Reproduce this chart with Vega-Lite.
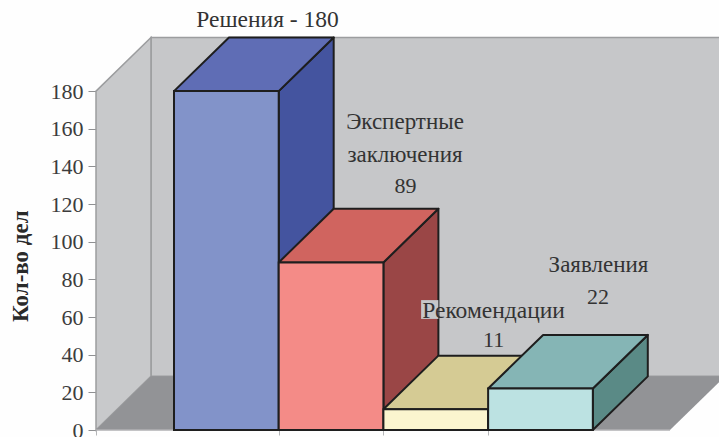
{
  "$schema": "https://vega.github.io/schema/vega-lite/v6.json",
  "width": 623,
  "height": 430,
  "autosize": "none",
  "padding": {"left": 96, "top": 0, "right": 0, "bottom": 7},
  "background": "#fefefe",
  "config": {"view": {"stroke": null}, "text": {"font": "Liberation Serif"}},
  "datasets": {
    "bars": [
      {"rank": 0, "name": "Решения", "value": 180},
      {"rank": 1, "name": "Экспертные заключения", "value": 89},
      {"rank": 2, "name": "Рекомендации", "value": 11},
      {"rank": 3, "name": "Заявления", "value": 22}
    ],
    "depth": [{"t": 0}, {"t": 1}],
    "single": [{"t": 0}]
  },
  "resolve": {"scale": {"color": "independent"}},
  "layer": [
    {
      "description": "Back wall of the box",
      "data": {"name": "single"},
      "mark": {"type": "rect", "fill": "#c6c7c9", "stroke": "#9c9d9f", "strokeWidth": 1.5, "clip": true},
      "encoding": {
        "x": {
          "datum": -0.22,
          "type": "quantitative",
          "title": null,
          "scale": {"domain": [-0.745, 5.205], "nice": false, "zero": false},
          "axis": {"values": [-0.745, 1, 2, 3], "labels": false, "domain": false, "grid": false, "tickSize": 5, "tickColor": "#b5b6b8", "title": null}
        },
        "x2": {"datum": 5.3},
        "y": {
          "datum": 28.5,
          "type": "quantitative",
          "title": null,
          "scale": {"domain": [0, 228.4], "nice": false, "zero": false},
          "axis": {
            "values": [0, 20, 40, 60, 80, 100, 120, 140, 160, 180],
            "domain": false,
            "grid": false,
            "tickSize": 8,
            "tickColor": "#8f9092",
            "labelFont": "Liberation Serif",
            "labelFontSize": 22,
            "labelColor": "#3c3c3c",
            "labelPadding": 5,
            "title": null
          }
        },
        "y2": {"datum": 208.5}
      }
    },
    {
      "description": "Left wall",
      "data": {"name": "depth"},
      "transform": [
        {"calculate": "-0.745 + 0.525 * datum.t", "as": "px"},
        {"calculate": "28.5 * datum.t", "as": "low"},
        {"calculate": "180 + 28.5 * datum.t", "as": "high"}
      ],
      "mark": {"type": "area", "fill": "#c8c9cb", "stroke": "#9c9d9f", "strokeWidth": 1.5},
      "encoding": {
        "x": {"field": "px", "type": "quantitative", "title": null},
        "y": {"field": "low", "type": "quantitative", "title": null},
        "y2": {"field": "high"}
      }
    },
    {
      "description": "Floor",
      "data": {"name": "depth"},
      "transform": [
        {"calculate": "-0.745 + 0.525 * datum.t", "as": "xa"},
        {"calculate": "4.737 + 0.525 * datum.t", "as": "xb"},
        {"calculate": "28.5 * datum.t", "as": "py"}
      ],
      "mark": {"type": "area", "orient": "horizontal", "fill": "#929396", "clip": true},
      "encoding": {
        "y": {"field": "py", "type": "quantitative", "title": null},
        "x": {"field": "xa", "type": "quantitative", "title": null},
        "x2": {"field": "xb"}
      }
    },
    {
      "description": "Front edge of the floor",
      "data": {"name": "single"},
      "mark": {"type": "rule", "stroke": "#b0b1b3", "strokeWidth": 1.5},
      "encoding": {
        "x": {"datum": -0.745, "type": "quantitative", "title": null},
        "x2": {"datum": 4.737},
        "y": {"datum": 0, "type": "quantitative", "title": null}
      }
    },
    {
      "description": "Right-hand faces of the bars",
      "data": {"name": "bars"},
      "transform": [
        {"calculate": "[0, 1]", "as": "t"},
        {"flatten": ["t"]},
        {"calculate": "datum.rank + 1 + 0.525 * datum.t", "as": "sx"},
        {"calculate": "datum.value + 28.5 * datum.t", "as": "sa"},
        {"calculate": "28.5 * datum.t", "as": "sb"}
      ],
      "mark": {"type": "area", "stroke": "#1e1e1e", "strokeWidth": 2, "strokeJoin": "round"},
      "encoding": {
        "x": {"field": "sx", "type": "quantitative", "title": null},
        "y": {"field": "sa", "type": "quantitative", "title": null},
        "y2": {"field": "sb"},
        "color": {
          "field": "name",
          "type": "nominal",
          "legend": null,
          "scale": {
            "domain": ["Решения", "Экспертные заключения", "Рекомендации", "Заявления"],
            "range": ["#44549f", "#9a4646", "#a09a70", "#5a8a86"]
          }
        }
      }
    },
    {
      "description": "Top faces of the bars",
      "data": {"name": "bars"},
      "transform": [
        {"calculate": "[0, 1]", "as": "t"},
        {"flatten": ["t"]},
        {"calculate": "datum.rank + 0.525 * datum.t", "as": "xa"},
        {"calculate": "datum.rank + 1 + 0.525 * datum.t", "as": "xb"},
        {"calculate": "datum.value + 28.5 * datum.t", "as": "ty"}
      ],
      "mark": {"type": "area", "orient": "horizontal", "stroke": "#1e1e1e", "strokeWidth": 2, "strokeJoin": "round"},
      "encoding": {
        "y": {"field": "ty", "type": "quantitative", "title": null},
        "x": {"field": "xa", "type": "quantitative", "title": null},
        "x2": {"field": "xb"},
        "color": {
          "field": "name",
          "type": "nominal",
          "legend": null,
          "scale": {
            "domain": ["Решения", "Экспертные заключения", "Рекомендации", "Заявления"],
            "range": ["#5f6db5", "#d0645f", "#d5cb94", "#85b5b5"]
          }
        }
      }
    },
    {
      "description": "Front faces of the bars",
      "data": {"name": "bars"},
      "transform": [{"calculate": "datum.rank + 1", "as": "rankEnd"}],
      "mark": {"type": "rect", "stroke": "#1e1e1e", "strokeWidth": 2},
      "encoding": {
        "x": {"field": "rank", "type": "quantitative", "title": null},
        "x2": {"field": "rankEnd"},
        "y": {"field": "value", "type": "quantitative", "title": null},
        "y2": {"datum": 0},
        "color": {
          "field": "name",
          "type": "nominal",
          "legend": null,
          "scale": {
            "domain": ["Решения", "Экспертные заключения", "Рекомендации", "Заявления"],
            "range": ["#8293c9", "#f48b87", "#fbf5cf", "#bce2e2"]
          }
        }
      }
    },
    {
      "description": "Patch of wall colour behind the first letter of the Рекомендации label",
      "data": {"name": "single"},
      "mark": {"type": "rect", "fill": "#c6c7c9"},
      "encoding": {
        "x": {"datum": 2.36, "type": "quantitative", "title": null},
        "x2": {"datum": 2.525},
        "y": {"datum": 59, "type": "quantitative", "title": null},
        "y2": {"datum": 69}
      }
    },
    {
      "description": "Vertical axis caption",
      "data": {"name": "single"},
      "mark": {"type": "text", "text": "Кол-во дел", "angle": 270, "fontSize": 23, "fontWeight": "bold", "color": "#2a2a2a", "align": "center", "baseline": "alphabetic"},
      "encoding": {
        "x": {"datum": -1.394, "type": "quantitative", "title": null},
        "y": {"datum": 87, "type": "quantitative", "title": null}
      }
    },
    {
      "data": {"name": "bars"},
      "transform": [
        {"filter": "datum.rank === 0"},
        {"calculate": "datum.name + ' - ' + datum.value", "as": "caption"}
      ],
      "mark": {"type": "text", "fontSize": 23.5, "color": "#333333", "align": "center", "baseline": "alphabetic"},
      "encoding": {
        "x": {"datum": 0.893, "type": "quantitative", "title": null},
        "y": {"datum": 214, "type": "quantitative", "title": null},
        "text": {"field": "caption"}
      }
    },
    {
      "data": {"name": "bars"},
      "transform": [{"filter": "datum.rank === 1"}],
      "mark": {"type": "text", "text": "Экспертные", "fontSize": 23, "color": "#333333", "align": "center", "baseline": "alphabetic"},
      "encoding": {
        "x": {"datum": 2.206, "type": "quantitative", "title": null},
        "y": {"datum": 159.9, "type": "quantitative", "title": null}
      }
    },
    {
      "data": {"name": "bars"},
      "transform": [{"filter": "datum.rank === 1"}],
      "mark": {"type": "text", "text": "заключения", "fontSize": 23, "color": "#333333", "align": "center", "baseline": "alphabetic"},
      "encoding": {
        "x": {"datum": 2.206, "type": "quantitative", "title": null},
        "y": {"datum": 142.3, "type": "quantitative", "title": null}
      }
    },
    {
      "data": {"name": "bars"},
      "transform": [{"filter": "datum.rank === 1"}],
      "mark": {"type": "text", "fontSize": 22, "color": "#333333", "align": "center", "baseline": "alphabetic"},
      "encoding": {
        "x": {"datum": 2.21, "type": "quantitative", "title": null},
        "y": {"datum": 126, "type": "quantitative", "title": null},
        "text": {"field": "value", "type": "quantitative"}
      }
    },
    {
      "data": {"name": "bars"},
      "transform": [{"filter": "datum.rank === 2"}],
      "mark": {"type": "text", "fontSize": 23.5, "color": "#333333", "align": "center", "baseline": "alphabetic"},
      "encoding": {
        "x": {"datum": 3.052, "type": "quantitative", "title": null},
        "y": {"datum": 59.6, "type": "quantitative", "title": null},
        "text": {"field": "name"}
      }
    },
    {
      "data": {"name": "bars"},
      "transform": [{"filter": "datum.rank === 2"}],
      "mark": {"type": "text", "fontSize": 22, "color": "#333333", "align": "center", "baseline": "alphabetic"},
      "encoding": {
        "x": {"datum": 3.052, "type": "quantitative", "title": null},
        "y": {"datum": 44.2, "type": "quantitative", "title": null},
        "text": {"field": "value", "type": "quantitative"}
      }
    },
    {
      "data": {"name": "bars"},
      "transform": [{"filter": "datum.rank === 3"}],
      "mark": {"type": "text", "fontSize": 23, "color": "#333333", "align": "center", "baseline": "alphabetic"},
      "encoding": {
        "x": {"datum": 4.054, "type": "quantitative", "title": null},
        "y": {"datum": 83.9, "type": "quantitative", "title": null},
        "text": {"field": "name"}
      }
    },
    {
      "data": {"name": "bars"},
      "transform": [{"filter": "datum.rank === 3"}],
      "mark": {"type": "text", "fontSize": 22, "color": "#333333", "align": "center", "baseline": "alphabetic"},
      "encoding": {
        "x": {"datum": 4.05, "type": "quantitative", "title": null},
        "y": {"datum": 66.9, "type": "quantitative", "title": null},
        "text": {"field": "value", "type": "quantitative"}
      }
    }
  ]
}
